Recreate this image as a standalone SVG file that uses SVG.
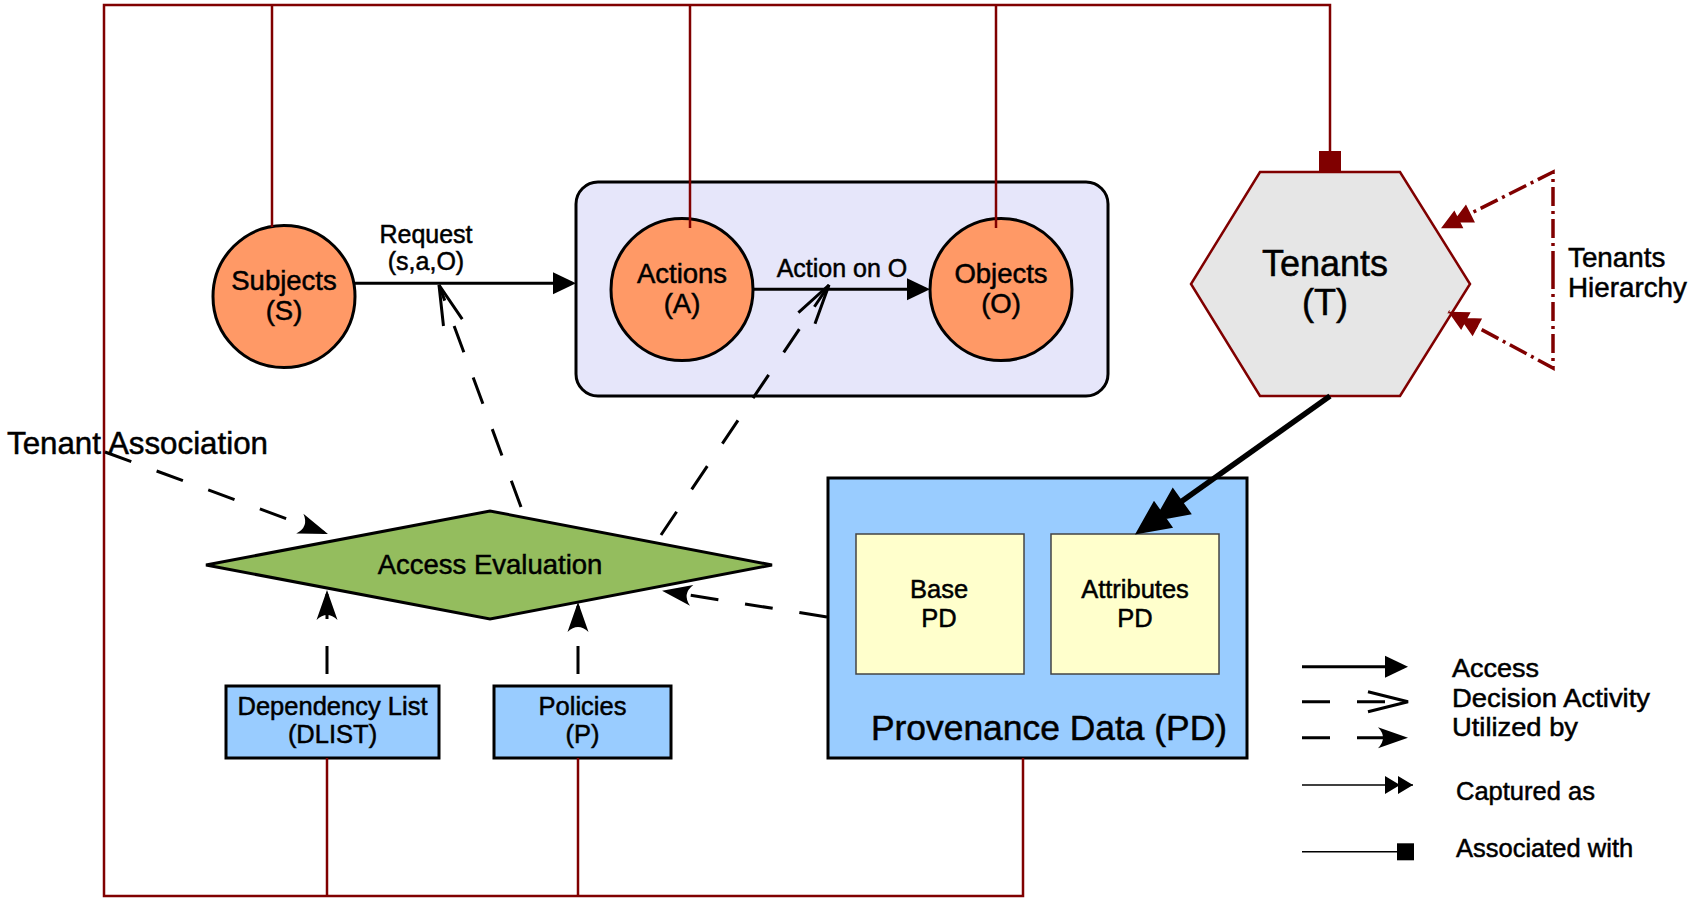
<svg xmlns="http://www.w3.org/2000/svg" width="1697" height="900" viewBox="0 0 1697 900">
  <style>
    text { font-family: "Liberation Sans", Arial, sans-serif; fill: #000; stroke: #000; stroke-width: 0.5; }
    .node-text { font-size: 27.5px; text-anchor: middle; }
    .box-text { font-size: 25.5px; text-anchor: middle; }
    .label { font-size: 25px; text-anchor: middle; }
    .legend-text { font-size: 25.5px; }
    .entity { fill: #ff9966; stroke: #000; stroke-width: 3; }
    .store { fill: #99ccff; stroke: #000; stroke-width: 3; }
    .pd-part { fill: #ffffcc; stroke: #444; stroke-width: 1.5; }
    .assoc { fill: none; stroke: #800000; stroke-width: 2.5; }
    .assoc-end { fill: #800000; }
    .access { fill: none; stroke: #000; stroke-width: 3; }
    .dashed { fill: none; stroke: #000; stroke-width: 3; stroke-dasharray: 28 27; }
    .hier { fill: none; stroke: #800000; stroke-width: 3.5; stroke-dasharray: 19 5 3 5; }
    .thin { fill: none; stroke: #000; stroke-width: 1.5; }
  </style>
  <defs>
    <!-- solid filled head: "Access" -->
    <marker id="solidHead" markerUnits="userSpaceOnUse" markerWidth="30" markerHeight="30" refX="-4" refY="0" orient="auto" overflow="visible">
      <path d="M0,0 L-23,-11 L-23,11 Z" fill="#000"/>
    </marker>
    <!-- open V head: "Decision Activity" -->
    <marker id="openHead" markerUnits="userSpaceOnUse" markerWidth="45" markerHeight="30" refX="0" refY="0" orient="auto" overflow="visible">
      <path d="M-40,-10 L0,0 L-40,10" fill="none" stroke="#000" stroke-width="3" stroke-linejoin="miter"/>
    </marker>
    <!-- notched filled head: "Utilized by" -->
    <marker id="notchHead" markerUnits="userSpaceOnUse" markerWidth="35" markerHeight="25" refX="-4" refY="0" orient="auto" overflow="visible">
      <path d="M0,0 L-30,-10.5 Q-20,0 -30,10.5 Z" fill="#000"/>
    </marker>
    <!-- double head: "Captured as" -->
    <marker id="doubleHead" markerUnits="userSpaceOnUse" markerWidth="30" markerHeight="20" refX="0" refY="0" orient="auto" overflow="visible">
      <path d="M0,0 L-15,-9 L-15,9 Z M-13,0 L-28,-9 L-28,9 Z" fill="#000"/>
    </marker>
    <marker id="doubleHeadBig" markerUnits="userSpaceOnUse" markerWidth="60" markerHeight="40" refX="0" refY="0" orient="auto" overflow="visible">
      <path d="M20,0 L-15,-16.5 L-15,16.5 Z M-3,0 L-38,-16.5 L-38,16.5 Z" fill="#000"/>
    </marker>
    <marker id="doubleHeadRed" markerUnits="userSpaceOnUse" markerWidth="40" markerHeight="25" refX="0" refY="0" orient="auto" overflow="visible">
      <path d="M0,0 L-20,-10 L-20,10 Z M-13,0 L-33,-10 L-33,10 Z" fill="#800000"/>
    </marker>
  </defs>

  <rect width="1697" height="900" fill="#fff"/>

  <!-- action scope container -->
  <g id="action-scope">
    <rect x="576" y="182" width="532" height="214" rx="22" ry="22" fill="#e6e6fa" stroke="#000" stroke-width="3"/>
  </g>

  <g id="subjects">
    <circle class="entity" cx="284" cy="296.5" r="71"/>
    <text class="node-text" x="284" y="289.5">Subjects</text>
    <text class="node-text" x="284" y="320">(S)</text>
  </g>

  <g id="actions">
    <circle class="entity" cx="682" cy="289.5" r="71"/>
    <text class="node-text" x="682" y="282.5">Actions</text>
    <text class="node-text" x="682" y="313">(A)</text>
  </g>

  <g id="objects">
    <circle class="entity" cx="1001" cy="289.5" r="71"/>
    <text class="node-text" x="1001" y="282.5">Objects</text>
    <text class="node-text" x="1001" y="313">(O)</text>
  </g>

  <g id="tenants">
    <polygon points="1260,172 1400,172 1470,284 1400,396 1260,396 1191,284" fill="#e6e6e6" stroke="#800000" stroke-width="2.5"/>
    <text x="1325" y="276" font-size="36" text-anchor="middle">Tenants</text>
    <text x="1325" y="315" font-size="36" text-anchor="middle">(T)</text>
  </g>

  <g id="access-evaluation">
    <polygon points="206,565 490,511 772,565 490,619" fill="#94bd5e" stroke="#000" stroke-width="3"/>
    <text x="490" y="573.5" font-size="27.5" text-anchor="middle">Access Evaluation</text>
  </g>

  <g id="dependency-list">
    <rect class="store" x="226" y="686" width="213" height="72"/>
    <text class="box-text" x="332.5" y="715">Dependency List</text>
    <text class="box-text" x="332.5" y="743">(DLIST)</text>
  </g>

  <g id="policies">
    <rect class="store" x="494" y="686" width="177" height="72"/>
    <text class="box-text" x="582.5" y="715">Policies</text>
    <text class="box-text" x="582.5" y="743">(P)</text>
  </g>

  <g id="provenance-data">
    <rect class="store" x="828" y="478" width="419" height="280"/>
    <text x="1049" y="740" font-size="35.4" text-anchor="middle">Provenance Data (PD)</text>
    <g id="base-pd">
      <rect class="pd-part" x="856" y="534" width="168" height="140"/>
      <text class="box-text" x="939" y="598">Base</text>
      <text class="box-text" x="939" y="627">PD</text>
    </g>
    <g id="attributes-pd">
      <rect class="pd-part" x="1051" y="534" width="168" height="140"/>
      <text class="box-text" x="1135" y="598">Attributes</text>
      <text class="box-text" x="1135" y="627">PD</text>
    </g>
  </g>

  <g id="connectors">
    <!-- association frame -->
    <path class="assoc" d="M1330,151 V5 H104 V896 H1023 V758"/>
    <path class="assoc" d="M272,5 V227"/>
    <path class="assoc" d="M690,5 V228"/>
    <path class="assoc" d="M996,5 V228"/>
    <path class="assoc" d="M327,758 V896"/>
    <path class="assoc" d="M578,758 V896"/>
    <rect class="assoc-end" x="1319" y="151" width="22" height="21"/>

    <!-- access flow -->
    <path class="access" d="M355,283.3 H572" marker-end="url(#solidHead)"/>
    <path class="access" d="M752,289.3 H926" marker-end="url(#solidHead)"/>

    <!-- decision activity -->
    <path class="dashed" d="M521,507 L439,285" marker-end="url(#openHead)"/>
    <path class="dashed" d="M661,535 L829,285" marker-end="url(#openHead)"/>

    <!-- utilized by -->
    <path class="dashed" d="M105,452 L324.2,532.6" marker-end="url(#notchHead)"/>
    <path class="dashed" d="M327,674 V594" marker-end="url(#notchHead)"/>
    <path class="dashed" d="M578,674 V606" marker-end="url(#notchHead)"/>
    <path class="dashed" d="M827,617 L666,591.3" marker-end="url(#notchHead)"/>

    <!-- captured as -->
    <path fill="none" stroke="#000" stroke-width="5.5" d="M1330,396 L1151.3,522.9" marker-end="url(#doubleHeadBig)"/>

    <!-- tenants hierarchy -->
    <path class="hier" d="M1553,270 V172 L1441,228.3" marker-end="url(#doubleHeadRed)"/>
    <path class="hier" d="M1553,270 V368 L1448.3,311.7" marker-end="url(#doubleHeadRed)"/>
  </g>

  <g id="labels">
    <text class="label" x="426" y="242.5">Request</text>
    <text class="label" x="426" y="270">(s,a,O)</text>
    <text class="label" x="842" y="276.5" font-size="25.5">Action on O</text>
    <text x="7" y="454" font-size="31.3">Tenant Association</text>
    <text x="1568" y="266.5" font-size="27.8">Tenants</text>
    <text x="1568" y="296.5" font-size="27.8">Hierarchy</text>
  </g>

  <g id="legend">
    <path class="access" d="M1302,666.7 H1404" marker-end="url(#solidHead)"/>
    <path class="dashed" d="M1302,701.7 H1408" stroke-dasharray="28 28" marker-end="url(#openHead)"/>
    <path class="dashed" d="M1302,737.7 H1404" stroke-dasharray="28 28" marker-end="url(#notchHead)"/>
    <path class="thin" d="M1302,785 H1413" marker-end="url(#doubleHead)"/>
    <path class="thin" d="M1302,851.7 H1397"/>
    <rect x="1397" y="843.3" width="17" height="17" fill="#000"/>
    <text class="legend-text" x="1452" y="677" textLength="87" lengthAdjust="spacingAndGlyphs">Access</text>
    <text class="legend-text" x="1452" y="706.5" textLength="198" lengthAdjust="spacingAndGlyphs">Decision Activity</text>
    <text class="legend-text" x="1452" y="736" textLength="126" lengthAdjust="spacingAndGlyphs">Utilized by</text>
    <text class="legend-text" x="1456" y="800">Captured as</text>
    <text class="legend-text" x="1456" y="857">Associated with</text>
  </g>
</svg>
